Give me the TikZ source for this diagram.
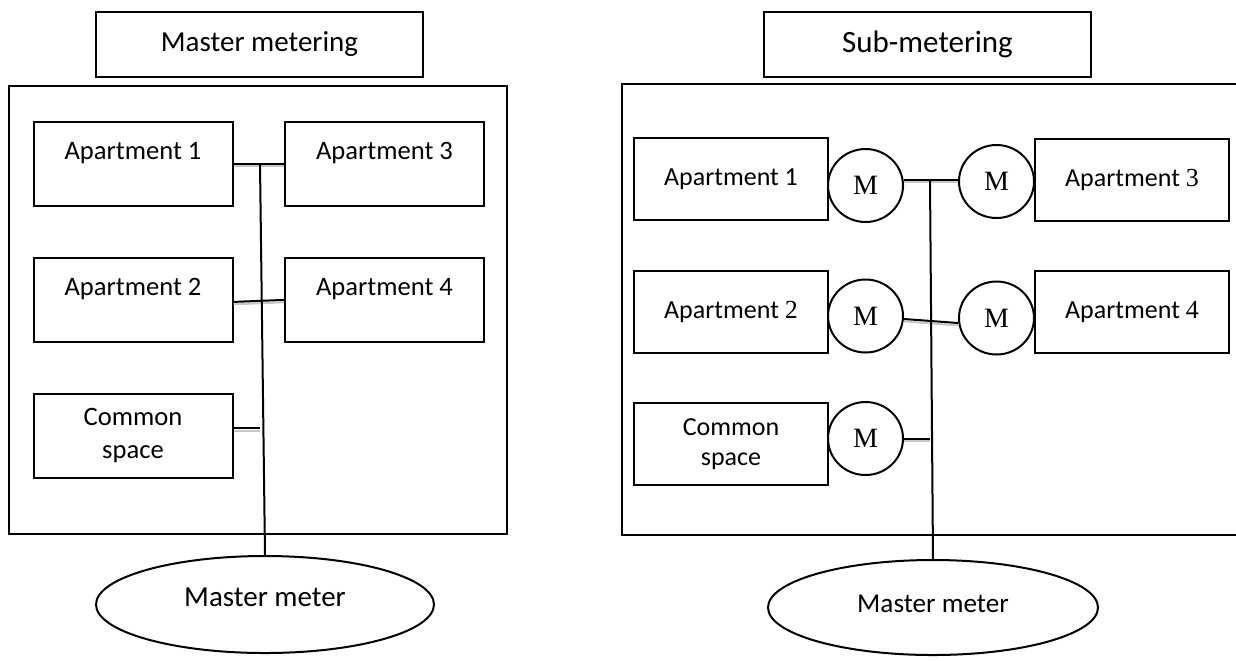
\documentclass[tikz,border=0pt]{standalone}
\usepackage{fontspec}
\setmainfont{Carlito}
\newfontfamily\tnr{Liberation Serif}
\usetikzlibrary{shapes.geometric}

\tikzset{
    box/.style={draw, rectangle, line width=1pt, align=center},
    title/.style={box, minimum width=163.5pt, minimum height=32.5pt},
    apt/.style={box, minimum width=99.5pt, minimum height=42pt, font=\fontsize{13.3}{16.5}\selectfont},
    aptr/.style={box, minimum width=97pt, minimum height=41pt, font=\fontsize{13}{15}\selectfont},
    meter/.style={draw, ellipse, line width=1pt, inner sep=0pt, minimum width=37.5pt, minimum height=36.5pt, font=\tnr\fontsize{14}{16}\selectfont},
    master/.style={draw, ellipse, line width=1pt},
    wire/.style={line width=1pt, preaction={draw=black!22, line width=1pt, transform canvas={yshift=-1.2pt}}},
}

\begin{document}
\begin{tikzpicture}[x=0.5pt, y=-0.5pt]
    \useasboundingbox (0,0) rectangle (1236,660);

    % Master metering
    \node[title, font=\fontsize{14.5}{17}\selectfont] (ttl1) at (259.5,44.5) {Master metering};
    \draw[line width=1pt] (9,86) rectangle (507,534);

    \node[apt, text depth=13pt] (a1) at (133,164) {Apartment 1};
    \node[apt, text depth=13pt] (a3) at (384.5,164) {Apartment 3};
    \node[apt, text depth=13pt] (a2) at (133,299.5) {Apartment 2};
    \node[apt, text depth=13pt] (a4) at (384.5,299.5) {Apartment 4};
    \node[apt] (cs1) at (133,435.5) {Common\\space};

    \node[master, minimum width=169pt, minimum height=48.5pt, text depth=7.5pt, font=\fontsize{14.5}{17}\selectfont] (mm1) at (265,604.5) {Master meter};
    \coordinate (j1) at (260,164);

    % Lines
    \draw[wire] (a1.east) -- (a3.west);
    \draw[wire] ([yshift=-1.2pt]a2.east) -- ([yshift=-0.2pt]a4.west);
    \draw[wire] ([yshift=3.7pt]cs1.east) coordinate (cs1e) -- (cs1e -| j1);
    \draw[line width=1pt] (j1) -- (mm1.north);

    % Sub-metering
    \node[title, font=\fontsize{15.5}{18}\selectfont] (ttl2) at (927.5,44.5) {Sub-metering};
    \draw[line width=1pt] (622,84) rectangle (1240,535);

    \node[aptr] (b1) at (731,179) {Apartment 1};
    \node[aptr] (b3) at (1132,179.5) {Apartment {\tnr 3}};
    \node[aptr] (b2) at (731,312) {Apartment {\tnr 2}};
    \node[aptr] (b4) at (1132,312) {Apartment {\tnr 4}};
    \node[aptr] (cs2) at (731,444) {Common\\space};

    \node[meter] (m1) at (865.5,185.5) {M};
    \node[meter] (m3) at (996.5,181.5) {M};
    \node[meter] (m2) at (865.5,316) {M};
    \node[meter] (m4) at (996.5,318) {M};
    \node[meter] (m5) at (865.5,438.5) {M};

    \node[master, minimum width=165pt, minimum height=47.5pt, text depth=3.5pt, font=\fontsize{13.6}{16}\selectfont] (mm2) at (933,607.5) {Master meter};
    \coordinate (j2) at (930,180);

    % Lines
    \draw[wire] (j2 -| m1.east) -- (j2 -| m3.west);
    \draw[wire] ([yshift=-1.5pt]m2.east) -- ([yshift=-2.5pt]m4.west);
    \draw[wire] (m5.east) -- (m5.east -| j2);
    \draw[line width=1pt] (j2) -- (mm2.north);
\end{tikzpicture}
\end{document}
